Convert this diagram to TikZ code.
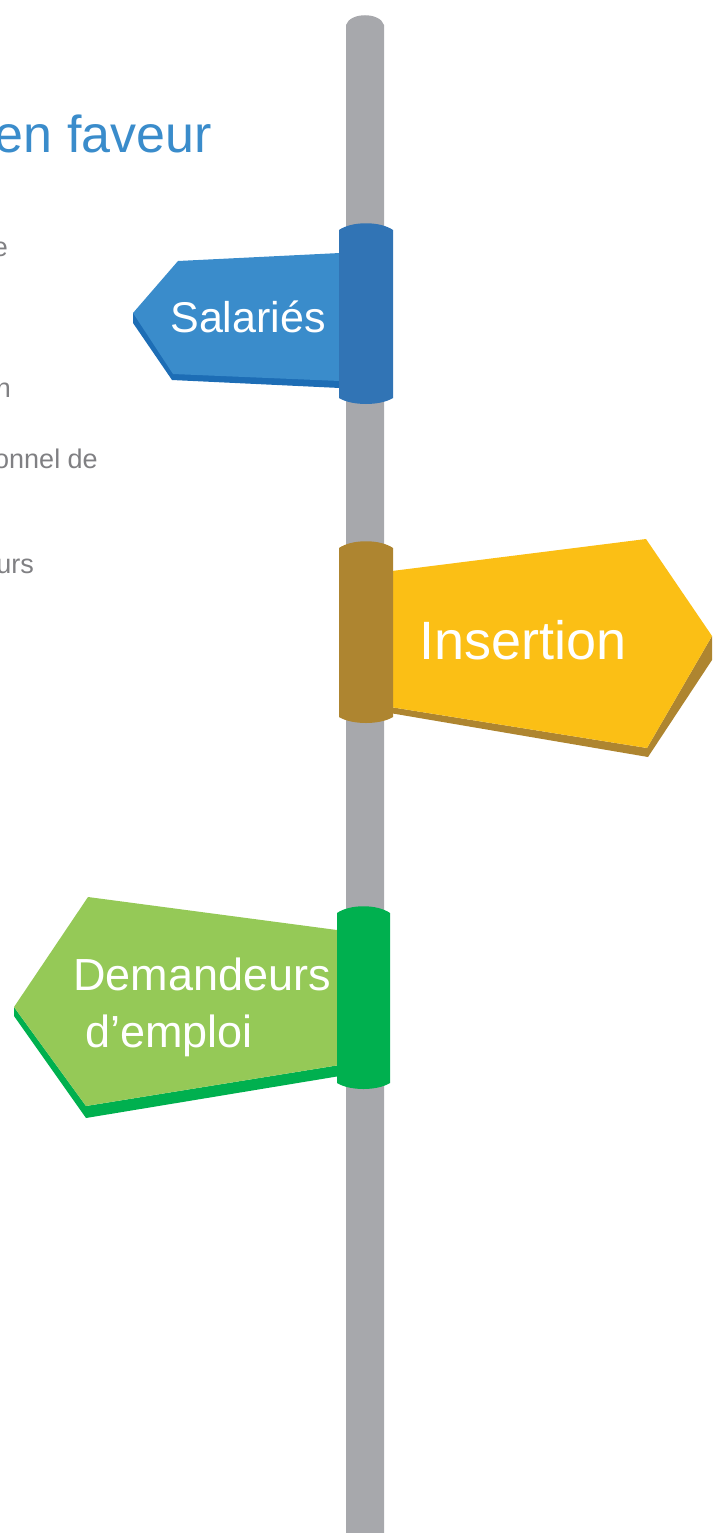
\documentclass[tikz,border=0pt]{standalone}
\usepackage{fontspec}
\setmainfont{Liberation Sans}
\usepackage{xcolor}
\usepackage{tikz}
\definecolor{polegray}{HTML}{A7A8AC}
\definecolor{textgray}{HTML}{808083}
\definecolor{titleblue}{HTML}{3A8CCB}
\definecolor{blueface}{HTML}{3A8CCB}
\definecolor{blueshade}{HTML}{1D6DB5}
\definecolor{bluecollar}{HTML}{3174B5}
\definecolor{yellowface}{HTML}{FBBF15}
\definecolor{brownshade}{HTML}{AE8530}
\definecolor{greenface}{HTML}{95C957}
\definecolor{greenshade}{HTML}{00B04F}
\tikzset{collar/.style = {draw=none}}

\begin{document}
\begin{tikzpicture}[x=1pt,y=-1pt,inner sep=0pt,sign text/.style={text=white,anchor=base},side text/.style={text=textgray,anchor=base east,font=\fontsize{27}{32}\selectfont}]
                \clip (0,0) rectangle (712,1533);
                \fill[polegray] (346,1540) -- (346,25) .. controls (350,12) and (380,12) .. (384,25) -- (384,1540) -- cycle;

                \node[text=titleblue,anchor=base east,font=\fontsize{52}{60}\selectfont] (title) at (212,153) {en faveur};
                \node[side text] (line1) at (8,256) {e};
                \node[side text] (line2) at (11,397) {n};
                \node[side text] (line3) at (98,468) {onnel de};
                \node[side text] (line4) at (34,573) {urs};

                \fill[blueshade] (133,313) -- (133,323) -- (172,380) -- (340,388) -- (340,381) -- cycle;
                \fill[blueface] (340,253) -- (178,261) -- (133,313) -- (173,374) -- (340,381) -- cycle;
                \fill[bluecollar,collar] (339,230) .. controls (352,221) and (380,221) .. (393,230) -- (393,398) .. controls (380,406) and (352,406) .. (339,398) -- cycle;
                \node[sign text,font=\fontsize{43}{48}\selectfont] (salaries) at (248,332) {Salariés};

                \fill[brownshade] (712,636) -- (712,660) -- (648,757) -- (384,712) -- (384,706) -- (647,748) -- cycle;
                \fill[yellowface] (384,572) -- (646,539) -- (712,636) -- (647,748) -- (384,706) -- cycle;
                \fill[brownshade,collar] (339,548) .. controls (352,539) and (380,539) .. (393,548) -- (393,717) .. controls (380,725) and (352,725) .. (339,717) -- cycle;
                \node[sign text,font=\fontsize{54}{60}\selectfont] (insertion) at (523,659) {Insertion};

                \fill[greenshade] (14,1007) -- (14,1016) -- (86,1118) -- (352,1074) -- (352,1063) -- (86,1106) -- cycle;
                \fill[greenface] (352,932) -- (88,897) -- (14,1007) -- (86,1106) -- (352,1063) -- cycle;
                \fill[greenshade,collar] (337,913) .. controls (350,904) and (377,904) .. (390,913) -- (390,1083) .. controls (377,1091) and (350,1091) .. (337,1083) -- cycle;
                \node[sign text,anchor=base west,font=\fontsize{45}{50}\selectfont] (demandeurs) at (73,990) {Demandeurs};
                \node[sign text,anchor=base west,font=\fontsize{45}{50}\selectfont] (emploi) at (85,1047) {d’emploi};
            \end{tikzpicture}
\end{document}
